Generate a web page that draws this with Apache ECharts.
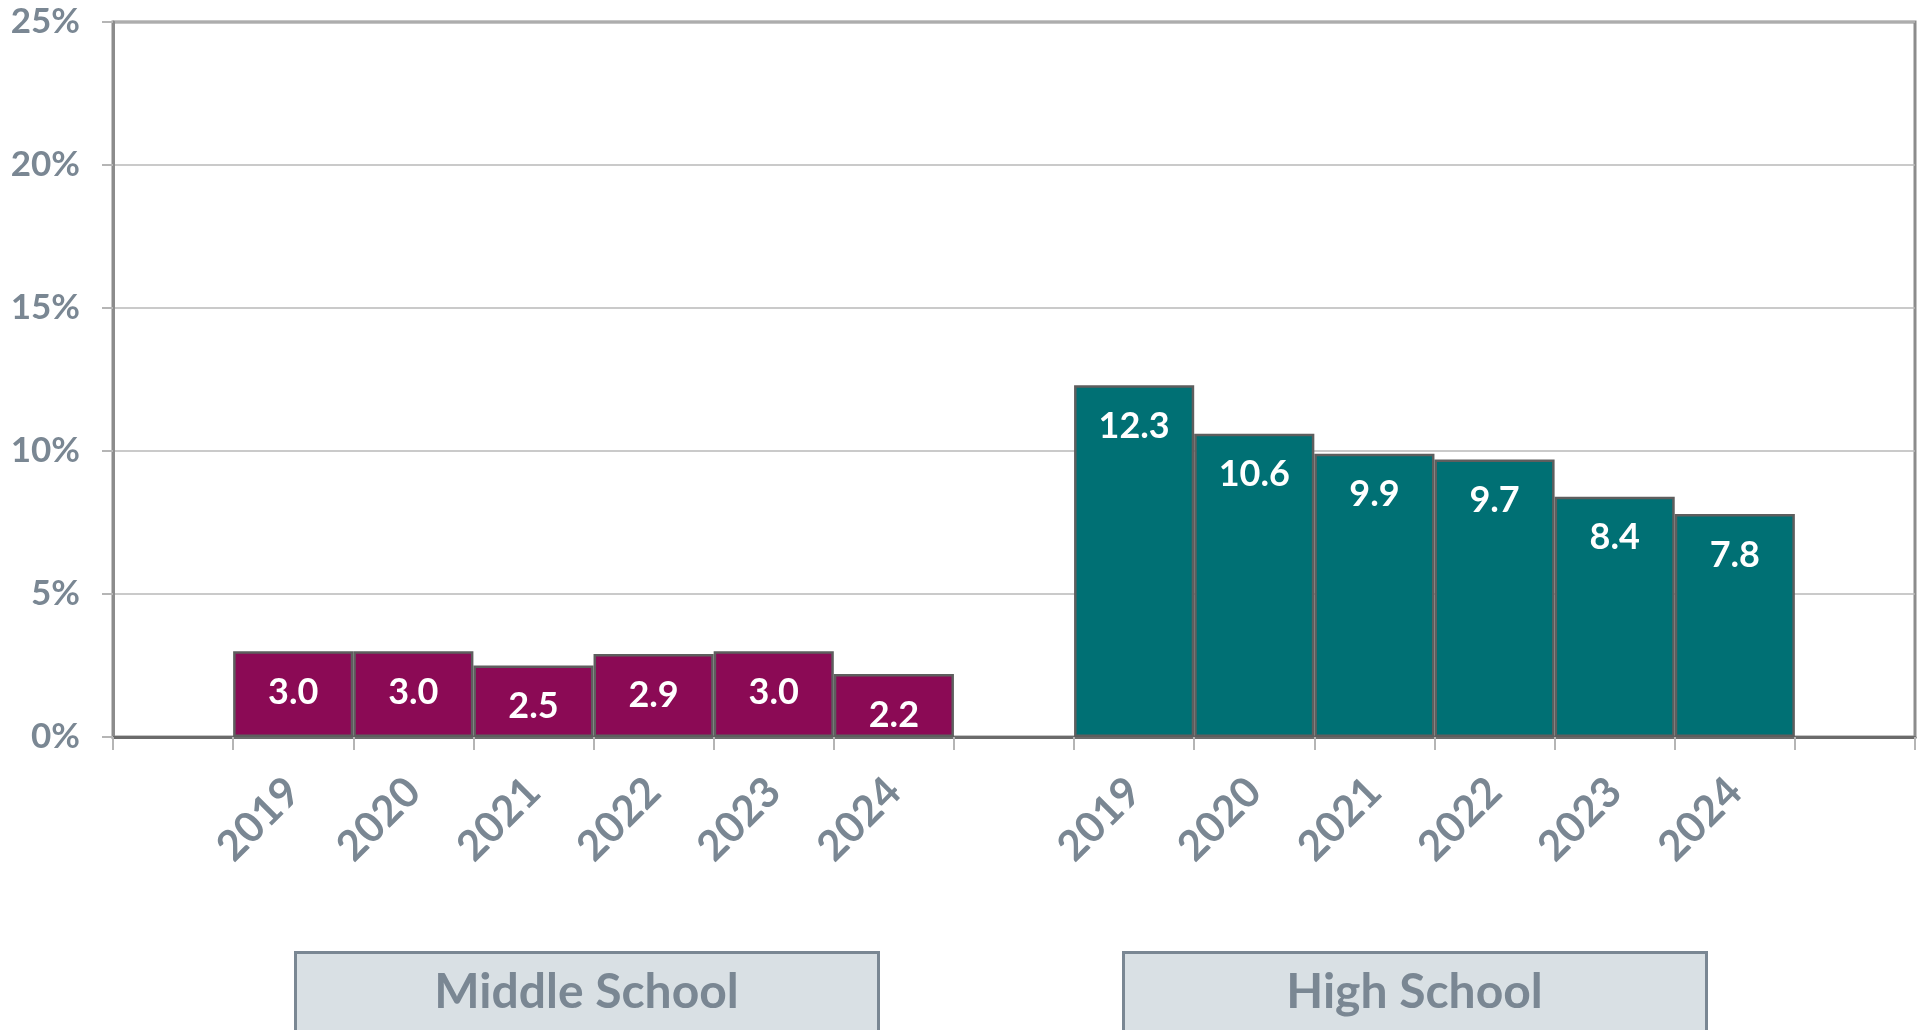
<!DOCTYPE html>
<html>
<head>
<meta charset="utf-8">
<style>
  html, body { margin: 0; padding: 0; background: #fff; }
  #chart { width: 1923px; height: 1030px; }
</style>
<script src="https://cdn.jsdelivr.net/npm/echarts@6/dist/echarts.min.js"></script>
</head>
<body>
<div id="chart"></div>
<script>
const years = ['2019', '2020', '2021', '2022', '2023', '2024'];
const middleSchool = [3.0, 3.0, 2.5, 2.9, 3.0, 2.2];
const highSchool = [12.3, 10.6, 9.9, 9.7, 8.4, 7.8];
const yTicks = [0, 5, 10, 15, 20, 25];

const labelColor = '#7a8793';
const font = 'Lato, "Open Sans", sans-serif';

// one blank slot on each side and between the groups
const categories = [''].concat(years, [''], years, ['']);
const blank = years.map(() => '-');
const msData = ['-'].concat(middleSchool, ['-'], blank, ['-']);
const hsData = ['-'].concat(blank, ['-'], highSchool, ['-']);

const chart = echarts.init(document.getElementById('chart'));

const barLabel = {
  show: true,
  position: 'insideTop',
  distance: 23,
  color: '#fff',
  fontFamily: font,
  fontWeight: 'bold',
  fontSize: 36,
  formatter: p => p.value.toFixed(1),
};

chart.setOption({
  animation: false,
  grid: {
    left: 113,
    right: 8,
    top: 22,
    bottom: 293,
    show: true,
    borderColor: '#8c8c8c',
    borderWidth: 3,
  },
  xAxis: {
    type: 'category',
    data: categories,
    axisLine: { show: true, lineStyle: { color: '#6b6b6b', width: 3 } },
    axisTick: { show: true, length: 13, lineStyle: { color: '#b5b5b5', width: 2 } },
    axisLabel: {
      rotate: 45,
      margin: 48,
      interval: 0,
      color: labelColor,
      fontFamily: font,
      fontWeight: 'bold',
      fontSize: 42,
    },
  },
  yAxis: {
    type: 'value',
    min: yTicks[0],
    max: yTicks[yTicks.length - 1],
    interval: 5,
    axisLine: { show: true, lineStyle: { color: '#8c8c8c', width: 3 } },
    axisTick: { show: true, length: 11, lineStyle: { color: '#b5b5b5', width: 2 } },
    splitLine: { show: true, lineStyle: { color: '#b8b8b8', width: 1.5 } },
    axisLabel: {
      margin: 33,
      color: labelColor,
      fontFamily: font,
      fontWeight: 'bold',
      fontSize: 35,
      formatter: '{value}%',
    },
  },
  series: [
    {
      name: 'Middle School',
      type: 'bar',
      data: msData,
      barCategoryGap: '0%',
      barGap: '-100%',
      itemStyle: { color: '#8b0a55', borderColor: '#5e5e5e', borderWidth: 2.5 },
      label: barLabel,
    },
    {
      name: 'High School',
      type: 'bar',
      data: hsData,
      barCategoryGap: '0%',
      barGap: '-100%',
      itemStyle: { color: '#007074', borderColor: '#5e5e5e', borderWidth: 2.5 },
      label: barLabel,
    },
  ],
  graphic: [
    {
      type: 'group',
      left: 294,
      top: 951,
      children: [
        { type: 'rect', shape: { x: 0, y: 0, width: 583, height: 80 }, style: { fill: '#d9e0e4', stroke: labelColor, lineWidth: 3 } },
        { type: 'text', x: 291, y: 40, style: { text: 'Middle School', fill: labelColor, font: 'bold 48px ' + font, align: 'center', verticalAlign: 'middle' } },
      ],
    },
    {
      type: 'group',
      left: 1122,
      top: 951,
      children: [
        { type: 'rect', shape: { x: 0, y: 0, width: 583, height: 80 }, style: { fill: '#d9e0e4', stroke: labelColor, lineWidth: 3 } },
        { type: 'text', x: 291, y: 40, style: { text: 'High School', fill: labelColor, font: 'bold 48px ' + font, align: 'center', verticalAlign: 'middle' } },
      ],
    },
  ],
});
</script>
</body>
</html>
